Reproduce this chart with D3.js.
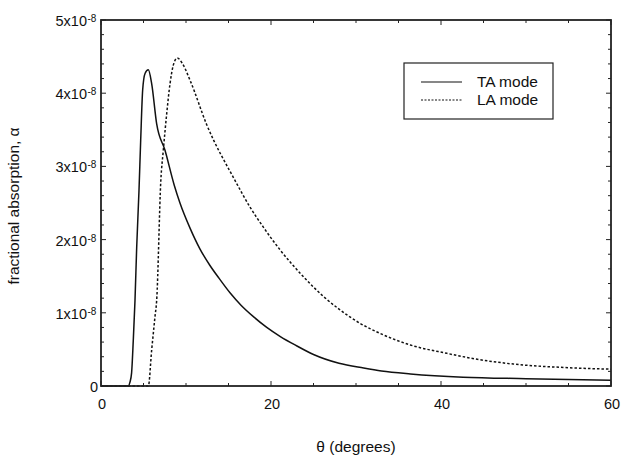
<!DOCTYPE html>
<html><head><meta charset="utf-8">
<script src="https://cdn.jsdelivr.net/npm/d3@7"></script>
<style>body{margin:0;background:#fff}svg{display:block}text{font-family:"Liberation Sans",Arial,sans-serif;fill:#111}</style>
</head><body><svg id="c" width="641" height="458"></svg>
<script>
// data (alpha values in units of 1e-8)
const taTheta = [0, 3.2, 3.4, 3.6, 3.8, 4.0, 4.2, 4.47, 4.67, 4.9, 5.18, 5.57, 5.96, 6.55, 7.53, 8.6, 9.29, 10.5, 11.65, 12.8, 13.9, 15.2, 16.5, 18, 19.5, 21.1, 23, 25, 28, 30.9, 33, 36.4, 42.6, 50, 60];
const taAlpha = [0, 0, 0.05, 0.18, 0.63, 1.17, 1.9, 2.67, 3.36, 4.04, 4.27, 4.32, 4.13, 3.58, 3.22, 2.75, 2.5, 2.15, 1.87, 1.65, 1.47, 1.27, 1.1, 0.94, 0.8, 0.675, 0.55, 0.43, 0.31, 0.245, 0.205, 0.165, 0.12, 0.1, 0.08];
const laTheta = [0, 5.2, 5.57, 5.96, 6.35, 6.55, 7.04, 7.33, 7.73, 8.12, 8.5, 8.98, 9.6, 10.5, 12.4, 15.76, 17.5, 19.1, 21.1, 23.6, 26.2, 28, 30.5, 32.8, 36.4, 40.7, 44, 48.5, 55, 60];
const laAlpha = [0, 0, 0, 0.49, 0.945, 1.17, 2.81, 3.22, 3.72, 4.13, 4.38, 4.48, 4.4, 4.17, 3.58, 2.81, 2.45, 2.17, 1.855, 1.52, 1.22, 1.05, 0.855, 0.72, 0.56, 0.446, 0.37, 0.3, 0.25, 0.23];
const xTicks = [0, 20, 40, 60];
const yTicks = [0, 1, 2, 3, 4, 5];
const seriesNames = ["TA mode", "LA mode"];

const svg = d3.select("#c");
const L = 101, R = 611, T = 20, B = 386;
const x = d3.scaleLinear().domain([0, 60]).range([L, R]);
const y = d3.scaleLinear().domain([0, 5]).range([B, T]);

const line = d3.line().x(d => x(d[0])).y(d => y(d[1])).curve(d3.curveMonotoneX);
const ta = taTheta.map((t, i) => [t, taAlpha[i]]);
const la = laTheta.map((t, i) => [t, laAlpha[i]]);

svg.append("path").attr("d", line(ta)).attr("fill", "none").attr("stroke", "#111").attr("stroke-width", 1.5);
svg.append("path").attr("d", line(la)).attr("fill", "none").attr("stroke", "#111").attr("stroke-width", 1.5).attr("stroke-dasharray", "2.5,2");

// frame
const g = svg.append("g");
g.append("rect").attr("x", L).attr("y", T).attr("width", R - L).attr("height", B - T)
  .attr("fill", "none").attr("stroke", "#222").attr("stroke-width", 1.8);

// ticks (inward) on all four sides
const xMinor = d3.range(0, 60.01, 5);
const yMinor = d3.range(0, 5.001, 0.2);
xMinor.forEach(v => {
  const len = xTicks.includes(v) ? 5 : 3;
  g.append("line").attr("x1", x(v)).attr("x2", x(v)).attr("y1", B).attr("y2", B - len).attr("stroke", "#222");
  g.append("line").attr("x1", x(v)).attr("x2", x(v)).attr("y1", T).attr("y2", T + len).attr("stroke", "#222");
});
yMinor.forEach(v => {
  const major = Math.abs(v - Math.round(v)) < 1e-6;
  const len = major ? 5 : 3;
  g.append("line").attr("x1", L).attr("x2", L + len).attr("y1", y(v)).attr("y2", y(v)).attr("stroke", "#222");
  g.append("line").attr("x1", R).attr("x2", R - len).attr("y1", y(v)).attr("y2", y(v)).attr("stroke", "#222");
});

// x tick labels
xTicks.forEach(v => {
  svg.append("text").attr("x", x(v) + 1).attr("y", 409).attr("text-anchor", "middle").attr("font-size", 14.5).text(v);
});
// y tick labels
yTicks.forEach(v => {
  if (v === 0) {
    svg.append("text").attr("x", 98).attr("y", y(v) + 6).attr("text-anchor", "end").attr("font-size", 14.5).text("0");
  } else {
    svg.append("text").attr("x", 87).attr("y", y(v) + 6).attr("text-anchor", "end").attr("font-size", 14.5).text(v + "x10");
    svg.append("text").attr("x", 87.5).attr("y", y(v) + 2).attr("font-size", 10).text("-8");
  }
});

// axis titles
svg.append("text").attr("x", 356).attr("y", 452).attr("text-anchor", "middle").attr("font-size", 15.5).text("θ (degrees)");
svg.append("text").attr("transform", "translate(19,206) rotate(-90)").attr("text-anchor", "middle").attr("font-size", 15.5).text("fractional absorption, α");

// legend
const lg = svg.append("g");
lg.append("rect").attr("x", 404).attr("y", 63).attr("width", 149).attr("height", 56).attr("fill", "#fff").attr("stroke", "#222").attr("stroke-width", 1.2);
[0, 1].forEach(i => {
  const yy = 82 + i * 18;
  lg.append("line").attr("x1", 421).attr("x2", 462).attr("y1", yy).attr("y2", yy).attr("stroke", "#111").attr("stroke-width", 1.2)
    .attr("stroke-dasharray", i ? "2,1.5" : null);
  lg.append("text").attr("x", 477).attr("y", yy + 5).attr("font-size", 15.5).text(seriesNames[i]);
});
</script></body></html>
